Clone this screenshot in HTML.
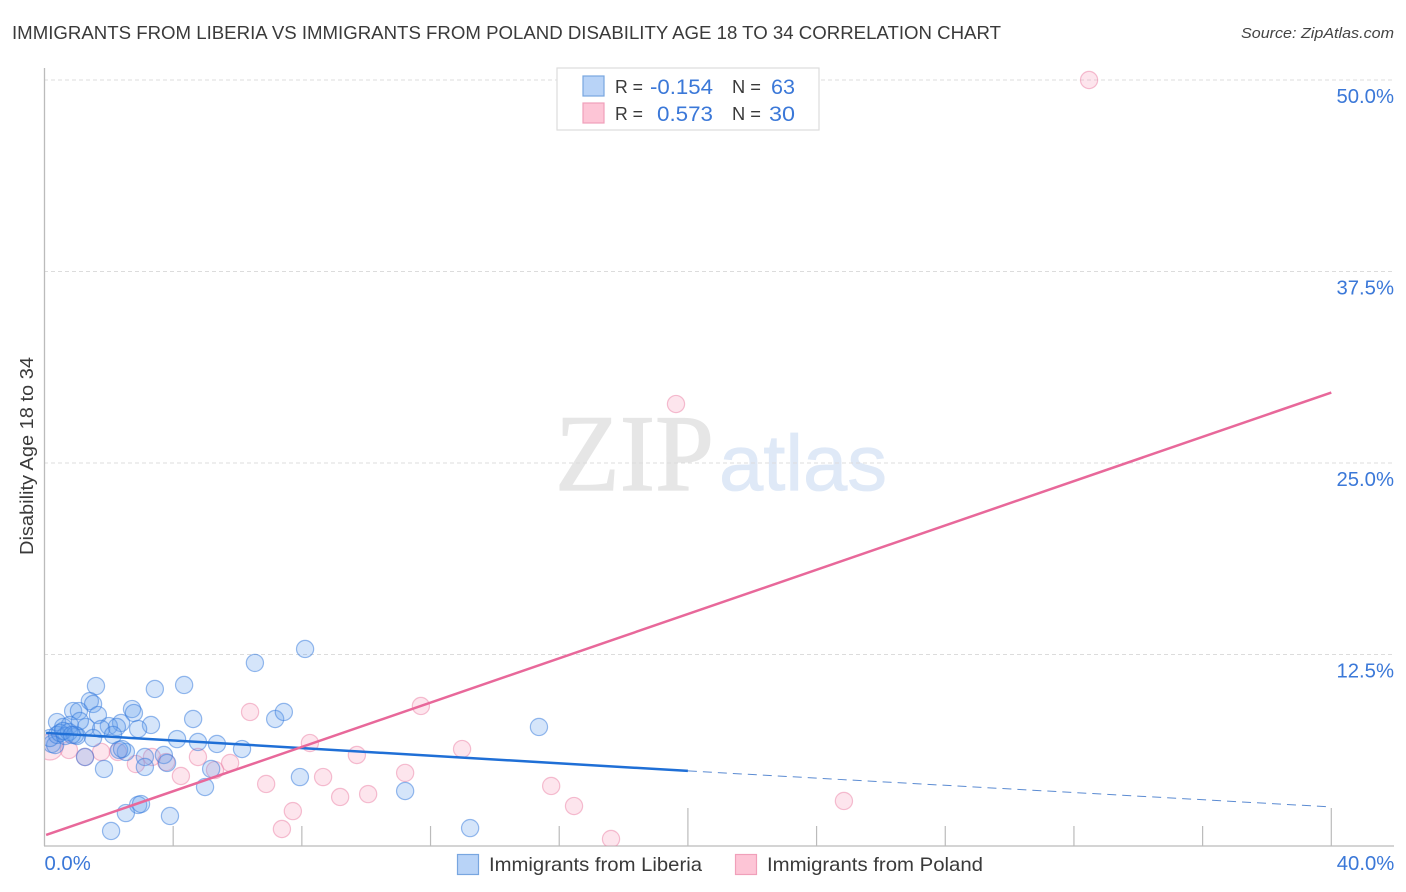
<!DOCTYPE html>
<html lang="en">
<head>
<meta charset="utf-8">
<title>Immigrants from Liberia vs Immigrants from Poland Disability Age 18 to 34 Correlation Chart</title>
<style>
html,body{margin:0;padding:0;background:#fff;width:1406px;height:892px;overflow:hidden}
svg{display:block;font-family:"Liberation Sans",sans-serif}
</style>
</head>
<body>
<svg id="chart" xmlns="http://www.w3.org/2000/svg" width="1406" height="892" viewBox="0 0 1406 892">
  <defs>
    <clipPath id="plot-clip"><rect x="45" y="60" width="1349" height="786"/></clipPath>
  </defs>
  <rect x="0" y="0" width="1406" height="892" fill="#fff"/>
  <text x="12" y="39" font-size="18.5" fill="#3a3a3a" textLength="989" lengthAdjust="spacingAndGlyphs">IMMIGRANTS FROM LIBERIA VS IMMIGRANTS FROM POLAND DISABILITY AGE 18 TO 34 CORRELATION CHART</text>
  <text x="1241" y="38" font-size="15" font-style="italic" fill="#444" textLength="153" lengthAdjust="spacingAndGlyphs">Source: ZipAtlas.com</text>

  <g>
    <text x="555" y="490" font-family="'Liberation Serif',serif" font-size="109" fill="#e6e6e6" stroke="#e6e6e6" stroke-width="1.2" textLength="159" lengthAdjust="spacingAndGlyphs">ZIP</text>
    <text x="719" y="490" font-size="79" fill="#dfe9f7" stroke="#dfe9f7" stroke-width="0.8" textLength="168" lengthAdjust="spacingAndGlyphs">atlas</text>
  </g>

  <g id="grid"></g>
  <g id="axes">
    <line x1="44.5" y1="68" x2="44.5" y2="846" stroke="#bbb" stroke-width="1.3"/>
    <line x1="44" y1="846" x2="1394" y2="846" stroke="#bbb" stroke-width="1.3"/>
  </g>
  <g id="x-ticks"></g>
  <g id="y-labels"></g>
  <g id="x-labels"></g>

  <text transform="translate(33,555) rotate(-90)" x="0" y="0" font-size="18" fill="#3a3a3a" textLength="198" lengthAdjust="spacingAndGlyphs">Disability Age 18 to 34</text>

  <g clip-path="url(#plot-clip)">
    <g id="poland-points"></g>
    <g id="liberia-points"></g>
    <g id="trend-lines"></g>
  </g>

  <g>
    <rect x="557" y="68" width="262" height="62" fill="#fff" stroke="#ddd" stroke-width="1.2"/>
    <rect x="583" y="76" width="21" height="20" fill="#b8d3f7" stroke="#78a6e0" stroke-width="1.2"/>
    <text x="615" y="93" font-size="18" fill="#3a3a3a" textLength="28" lengthAdjust="spacingAndGlyphs">R =</text>
    <text x="650" y="94" font-size="21.5" fill="#3b78d8" textLength="63" lengthAdjust="spacingAndGlyphs">-0.154</text>
    <text x="732" y="93" font-size="18" fill="#3a3a3a" textLength="29" lengthAdjust="spacingAndGlyphs">N =</text>
    <text x="771" y="94" font-size="21.5" fill="#3b78d8" textLength="24" lengthAdjust="spacingAndGlyphs">63</text>
    <rect x="583" y="103" width="21" height="20" fill="#fdc5d6" stroke="#f0a0ba" stroke-width="1.2"/>
    <text x="615" y="120" font-size="18" fill="#3a3a3a" textLength="28" lengthAdjust="spacingAndGlyphs">R =</text>
    <text x="657" y="121" font-size="21.5" fill="#3b78d8" textLength="56" lengthAdjust="spacingAndGlyphs">0.573</text>
    <text x="732" y="120" font-size="18" fill="#3a3a3a" textLength="29" lengthAdjust="spacingAndGlyphs">N =</text>
    <text x="769" y="121" font-size="21.5" fill="#3b78d8" textLength="26" lengthAdjust="spacingAndGlyphs">30</text>
  </g>

  <g>
    <rect x="457.5" y="854.5" width="21" height="20" fill="#b8d3f7" stroke="#78a6e0" stroke-width="1.2"/>
    <text x="489" y="871" font-size="19.5" fill="#3a3a3a" textLength="213" lengthAdjust="spacingAndGlyphs">Immigrants from Liberia</text>
    <rect x="735.5" y="854.5" width="21" height="20" fill="#fdc5d6" stroke="#f0a0ba" stroke-width="1.2"/>
    <text x="767" y="871" font-size="19.5" fill="#3a3a3a" textLength="216" lengthAdjust="spacingAndGlyphs">Immigrants from Poland</text>
  </g>
</svg>
<script>
const liberiaX = [1.60,3.43,4.34,6.54,8.10,4.62,2.72,2.78,1.41,1.51,0.89,1.07,1.66,0.39,2.38,3.31,2.91,2.00,2.25,7.17,7.44,0.79,0.58,1.29,1.76,2.13,1.51,1.01,4.12,4.77,5.36,6.14,2.53,2.32,3.71,3.12,1.26,3.81,3.12,1.85,5.18,4.99,7.94,2.91,3.00,2.53,3.90,2.07,11.21,13.23,15.37,0.23,0.33,0.17,0.39,0.48,0.64,0.76,0.58,0.95,2.41,1.10,0.85];
const liberiaY = [10.44,10.25,10.51,11.95,12.86,8.29,8.94,8.68,9.46,9.27,8.81,8.81,8.55,8.09,8.03,7.90,7.64,7.83,7.77,8.29,8.75,7.90,7.77,7.77,7.64,7.25,7.05,7.18,6.98,6.79,6.66,6.33,6.14,6.27,5.94,5.81,5.81,5.42,5.16,5.03,5.03,3.85,4.50,2.68,2.74,2.15,1.96,0.98,3.59,1.17,7.77,6.66,6.59,7.05,7.25,7.38,7.18,7.44,7.51,7.25,6.33,8.16,7.25];
const polandX = [0.17,32.47,19.63,11.70,6.39,8.25,12.98,9.71,8.66,6.89,11.21,9.19,10.06,15.75,16.46,24.85,7.72,7.38,17.61,5.77,5.30,4.77,4.24,2.84,3.78,3.34,2.28,1.76,1.26,0.76];
const polandY = [6.46,50.00,28.85,9.14,8.75,6.72,6.33,5.94,4.50,4.05,4.77,3.20,3.39,3.92,2.61,2.94,2.28,1.11,0.46,5.42,4.96,5.81,4.57,5.35,5.48,5.81,6.14,6.14,5.81,6.27];
const liberiaTrendX = [0.05, 20, 40];
const liberiaTrendY = [7.38, 4.90, 2.55];
const polandTrendX = [0.05, 40];
const polandTrendY = [0.72, 29.6];
const xTickValues = [4, 8, 12, 16, 20, 24, 28, 32, 36, 40];
const xMajorTickValues = [20, 40];
const yTickValues = [12.5, 25, 37.5, 50];
const yTickLabels = ["12.5%", "25.0%", "37.5%", "50.0%"];
const xEndValues = [0, 40];
const xEndLabels = ["0.0%", "40.0%"];

const NS = "http://www.w3.org/2000/svg";
function xScale(v) { return 44.5 + v * 32.17; }
function yScale(v) { return 846 - v * 15.32; }
function make(tag, attrs, parent) {
  const el = document.createElementNS(NS, tag);
  for (const k in attrs) el.setAttribute(k, attrs[k]);
  parent.appendChild(el);
  return el;
}

const gridGroup = document.getElementById("grid");
const yLabelGroup = document.getElementById("y-labels");
yTickValues.forEach(function (v, i) {
  const grid = make("line", {x1: 44, x2: 1394, y1: yScale(v), y2: yScale(v), stroke: "#dcdcdc", "stroke-width": 1, "stroke-dasharray": "4 3"}, gridGroup);
  
  
  const label = make("text", {x: 1394, y: yScale(v) + 23, "text-anchor": "end", "font-size": 20.3, fill: "#3b78d8"}, yLabelGroup);
  label.textContent = yTickLabels[i];
  
  
});

const xTickGroup = document.getElementById("x-ticks");
xTickValues.forEach(function (v) {
  const top = xMajorTickValues.indexOf(v) >= 0 ? 808 : 826;
  const tick = make("line", {x1: xScale(v), x2: xScale(v), y1: top, y2: 846, stroke: "#bbb", "stroke-width": 1.2}, xTickGroup);
  
  
});

const xLabelGroup = document.getElementById("x-labels");
xEndValues.forEach(function (v, i) {
  const last = i === xEndValues.length - 1;
  const label = make("text", {x: last ? xScale(v) + 63 : xScale(v), y: 870, "text-anchor": last ? "end" : "start", "font-size": 20.3, fill: "#3b78d8"}, xLabelGroup);
  label.textContent = xEndLabels[i];
  
  
});

const polandGroup = document.getElementById("poland-points");
polandX.forEach(function (v, i) {
  const dot = make("circle", {cx: xScale(v), cy: yScale(polandY[i]), r: i === 0 ? 13 : 8.6, fill: "rgba(248,160,188,0.27)", stroke: "rgba(236,130,165,0.5)", "stroke-width": 1.2}, polandGroup);
  
  
});

const liberiaGroup = document.getElementById("liberia-points");
liberiaX.forEach(function (v, i) {
  const dot = make("circle", {cx: xScale(v), cy: yScale(liberiaY[i]), r: 8.6, fill: "rgba(100,160,236,0.27)", stroke: "rgba(50,120,220,0.5)", "stroke-width": 1.2}, liberiaGroup);
  
  
});

const trendGroup = document.getElementById("trend-lines");
const liberiaSolid = make("line", {x1: xScale(liberiaTrendX[0]), y1: yScale(liberiaTrendY[0]), x2: xScale(liberiaTrendX[1]), y2: yScale(liberiaTrendY[1]), stroke: "#1f6fd6", "stroke-width": 2.5}, trendGroup);


const liberiaDash = make("line", {x1: xScale(liberiaTrendX[1]), y1: yScale(liberiaTrendY[1]), x2: xScale(liberiaTrendX[2]), y2: yScale(liberiaTrendY[2]), stroke: "#5b8bd2", "stroke-width": 1, "stroke-dasharray": "9 6"}, trendGroup);


const polandLine = make("line", {x1: xScale(polandTrendX[0]), y1: yScale(polandTrendY[0]), x2: xScale(polandTrendX[1]), y2: yScale(polandTrendY[1]), stroke: "#e8689a", "stroke-width": 2.5}, trendGroup);


</script>
</body>
</html>
